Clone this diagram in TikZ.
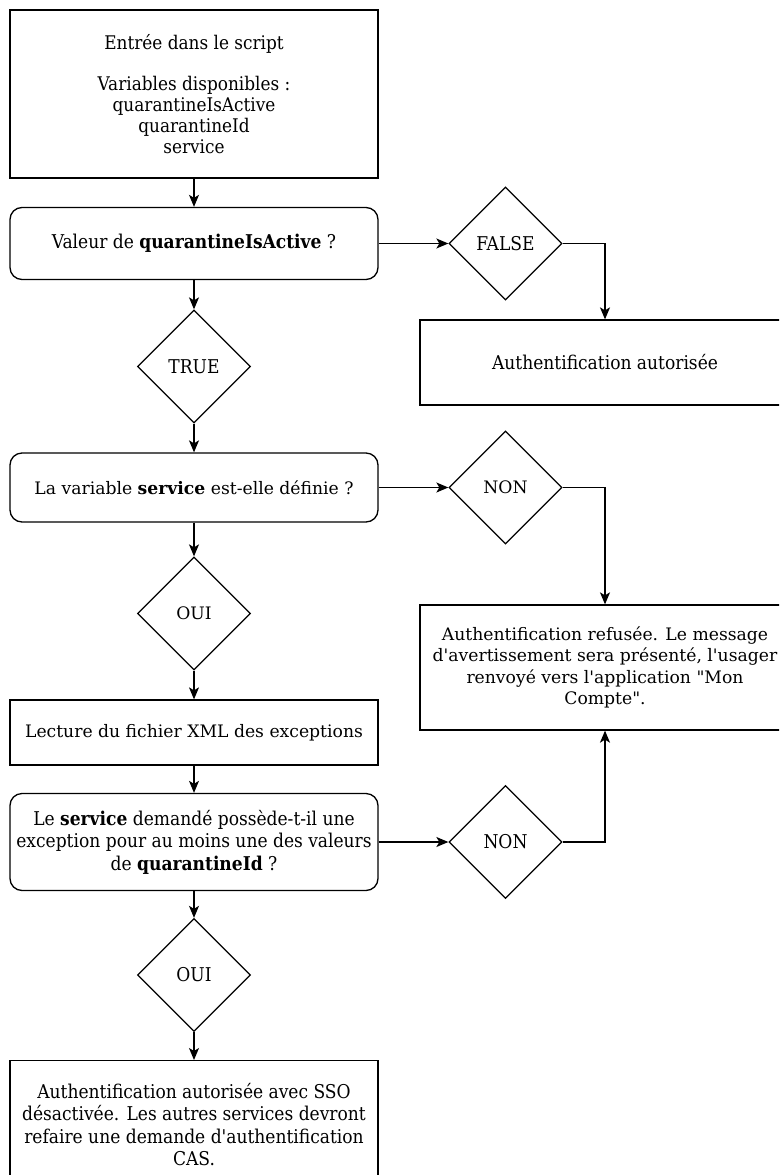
\documentclass[tikz,border=0pt]{standalone}
\usepackage{fontspec}
\setmainfont{DejaVu Serif}[Ligatures=TeXOff]
\newfontfamily\condensed{DejaVu Serif Condensed}[Ligatures=TeXOff]
\usetikzlibrary{shapes.geometric,arrows.meta}

\tikzset{
  base/.style={draw=black, line width=1.3pt, fill=white, align=center, inner sep=0pt,
    font=\fontsize{17.2}{21.6}\selectfont},
  cond/.style={font=\condensed\fontsize{19}{22.4}\selectfont},
  box/.style={base, rectangle, minimum width=368pt},
  rbox/.style={box, rounded corners=12pt},
  choice/.style={base, diamond, minimum width=113pt, minimum height=113pt},
  flow/.style={line width=1.3pt, -{Stealth[length=12pt,width=10pt,inset=3pt]}},
}

\begin{document}
\begin{tikzpicture}[x=1pt,y=-1pt]
\clip (0,0) rectangle (779,1175);
\fill[white] (0,0) rectangle (779,1175);

% left column
\node[box, cond, font=\condensed\fontsize{18.8}{20.8}\selectfont, minimum height=168pt] (entry) at (194,94)
  {Entrée dans le script\\[20.8pt]Variables disponibles :\\quarantineIsActive\\quarantineId\\service};
\node[rbox, cond, minimum height=72pt] (active) at (194,243.5)
  {Valeur de \textbf{quarantineIsActive} ?};
\node[choice, cond] (true) at (194,366.5) {TRUE};
\node[rbox, minimum height=69pt] (defined) at (194,487.5)
  {La variable \textbf{service} est-elle définie ?};
\node[choice] (yes1) at (194,613.5) {OUI};
\node[box, minimum height=65pt] (reading) at (194,732.5)
  {Lecture du fichier XML des exceptions};
\node[rbox, cond, minimum height=97pt] (exception) at (194,842)
  {Le \textbf{service} demandé possède-t-il une\\exception pour au moins une des valeurs\\de \textbf{quarantineId} ?};
\node[choice, cond] (yes2) at (194,975) {OUI};
\node[box, cond, minimum height=128pt, anchor=north] (sso) at (194,1060)
  {Authentification autorisée avec SSO\\désactivée. Les autres services devront\\refaire une demande d'authentification\\CAS.};

% right column
\node[choice, cond] (false) at (505.5,243.5) {FALSE};
\node[box, cond, minimum width=370pt, minimum height=85pt] (allowed) at (605,362.5)
  {Authentification autorisée};
\node[choice] (no1) at (505.5,487.5) {NON};
\node[box, minimum width=370pt, minimum height=125pt] (refused) at (605,667.5)
  {Authentification refusée. Le message\\d'avertissement sera présenté, l'usager\\renvoyé vers l'application "Mon\\Compte".};
\node[choice, cond] (no2) at (505.5,842) {NON};

% connectors
\draw[flow] (entry) -- (active);
\draw[flow] (active) -- (true);
\draw[flow] (true) -- (defined);
\draw[flow] (defined) -- (yes1);
\draw[flow] (yes1) -- (reading);
\draw[flow] (reading) -- (exception);
\draw[flow] (exception) -- (yes2);
\draw[flow] (yes2) -- (sso);

\draw[flow] (active.east) -- (false.west);
\draw[flow] (false.east) -| (allowed.north);
\draw[flow] (defined.east) -- (no1.west);
\draw[flow] (no1.east) -| (refused.north);
\draw[flow] (exception.east) -- (no2.west);
\draw[flow] (no2.east) -| (refused.south);
\end{tikzpicture}
\end{document}
